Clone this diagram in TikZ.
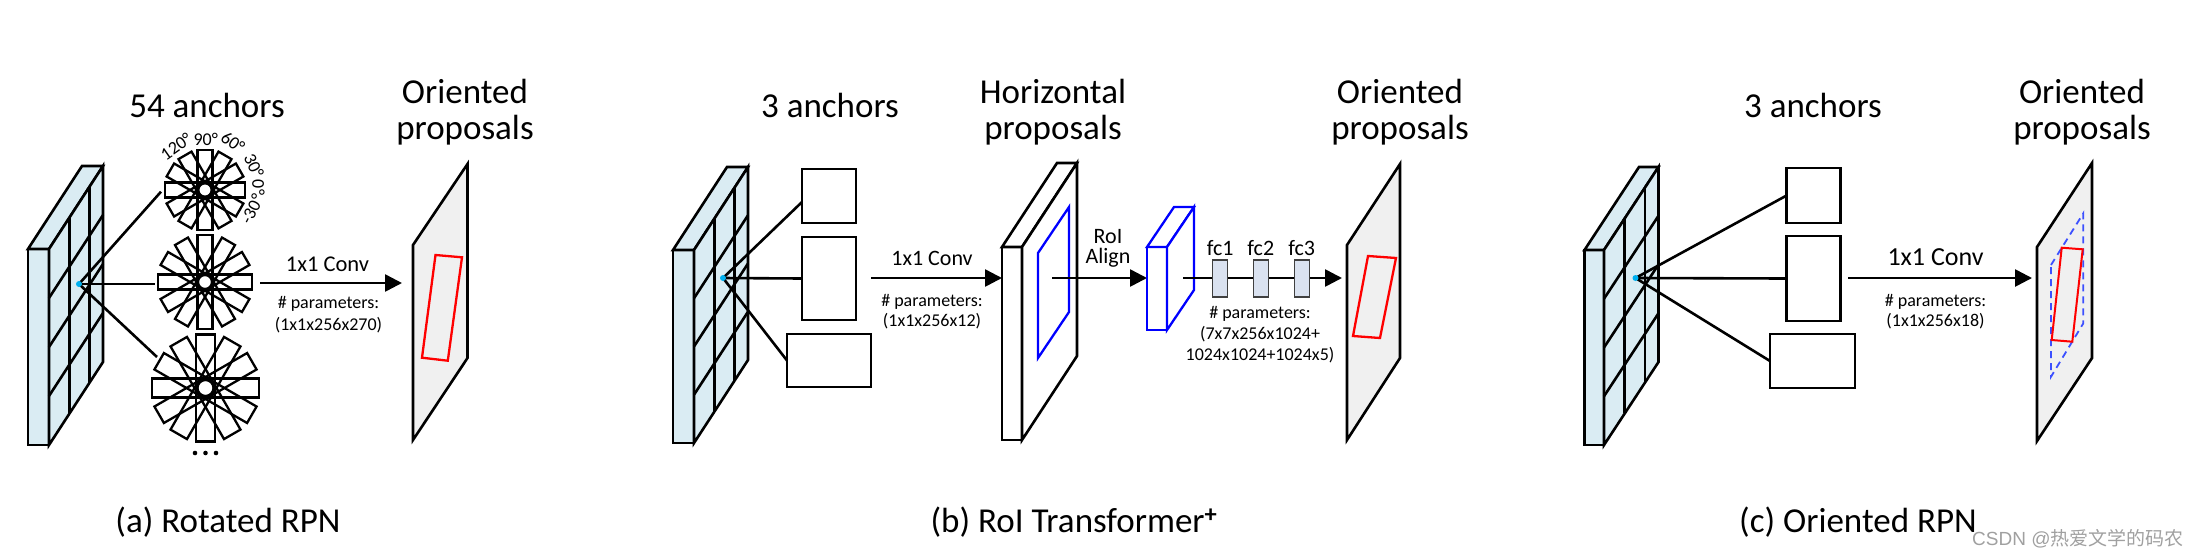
\documentclass[tikz,border=0pt]{standalone}
\usepackage{fontspec}
\setmainfont{Carlito}
\newfontfamily\wmfont{Liberation Sans}
\newfontfamily\cjkfont{Noto Sans CJK SC}
\usetikzlibrary{arrows.meta}
\definecolor{fmblue}{RGB}{218,236,243}
\definecolor{planegray}{RGB}{240,240,240}
\definecolor{fcfill}{RGB}{218,226,240}
\definecolor{dotblue}{RGB}{0,176,240}
\definecolor{wmgray}{RGB}{160,160,160}
\definecolor{dashblue}{RGB}{60,80,255}

% slab: #1 x, #2 y (front top-left), #3 w, #4 h, #5 dx, #6 dy (up), #7 style
\newcommand\slab[7]{%
\begin{scope}[shift={(#1,#2)}]
 \draw[#7] (0,0) rectangle (#3,#4);
 \draw[#7] (0,0) -- (#5,-#6) -- ({#3+#5},-#6) -- (#3,0) -- cycle;
 \draw[#7] (#3,0) -- ({#3+#5},-#6) -- ({#3+#5},{#4-#6}) -- (#3,#4) -- cycle;
\end{scope}}
\newcommand\featgrid[6]{%
\begin{scope}[shift={(#1,#2)}]
 \foreach \t in {0.38,0.75} \draw[blk] ({#3+\t*#5},{-\t*#6}) -- ({#3+\t*#5},{#4-\t*#6});
 \foreach \k in {1,2,3} \draw[blk] (#3,{\k*#4/4}) -- ({#3+#5},{\k*#4/4-#6});
\end{scope}}
\newcommand\anchorstar[5]{%
\begin{scope}[shift={(#1,#2)}]
 \foreach \a in {0,30,60,90,120,150}{\draw[thn,rotate=\a] ({-#3/2},{-#4/2}) rectangle ({#3/2},{#4/2});}
 \draw[thn,fill=white] (0,0) circle (#5);
\end{scope}}

\begin{document}
\begin{tikzpicture}[x=1pt,y=-1pt,
  blk/.style={line width=2.6pt},
  thn/.style={line width=2.3pt},
  arr/.style={line width=2.6pt,-{Triangle[length=17pt,width=17pt]}},
  lbl/.style={inner sep=0pt, anchor=base},
  title/.style={lbl, font=\fontsize{35}{36}\selectfont},
  conv/.style={lbl, font=\fontsize{22}{24}\selectfont},
  param/.style={lbl, font=\fontsize{18}{20}\selectfont},
  captxt/.style={lbl, font=\fontsize{35}{38}\selectfont},
  ang/.style={inner sep=0pt, font=\fontsize{18}{19}\selectfont},
  abox/.style={draw, line width=2.6pt, inner sep=0pt, outer sep=0pt},
  fcbox/.style={draw=black!75, line width=1.3pt, fill=fcfill, minimum width=15pt, minimum height=37pt, inner sep=0pt}]
\useasboundingbox (0,0) rectangle (2198,558);

% ================= (a) Rotated RPN =================
\slab{28}{249}{21}{196}{54}{83}{blk,fill=fmblue}
\featgrid{28}{249}{21}{196}{54}{83}
\coordinate (da) at (79,284);
\coordinate (at1) at (161,191.7);
\coordinate (at2) at (155,284);
\coordinate (at3) at (157,357);
\draw[blk] (da) -- (at1);
\draw[blk] (da) -- (at2);
\draw[blk] (da) -- (at3);
\fill[dotblue] (da) circle (3);

\anchorstar{205}{190}{80}{15}{6.7}
\anchorstar{205}{282}{94}{15}{7}
\anchorstar{205.5}{388}{107}{19}{8}
\foreach \xx in {195,205.5,216} \fill (\xx,453) circle (2.3);

\node[ang,rotate=35] (l120) at (176,146.5) {120°};
\node[ang] (l90) at (205.7,139) {90°};
\node[ang,rotate=-35] (l60) at (233,142.5) {60°};
\node[ang,rotate=-65] (l30) at (254,165.5) {30°};
\node[ang,rotate=-90] (l0) at (258.5,187.5) {0°};
\node[ang,rotate=63] (lm30) at (252,209) {-30°};

\node[title] (a54) at (207,117) {54 anchors};
\node[title] (aor1) at (465,103.5) {Oriented};
\node[title] (aor2) at (465,139.5) {proposals};

\coordinate (aS) at (260,283);
\coordinate (aE) at (402,283);
\draw[arr] (aS) -- (aE);
\node[lbl,font=\fontsize{22.5}{24}\selectfont] (aconv) at (327.5,271) {1x1 Conv};
\node[param] (apar1) at (328.5,308) {\# parameters:};
\node[param] (apar2) at (328.5,330) {(1x1x256x270)};

\draw[blk,fill=planegray] (413,245) -- (467.5,164) -- (467.5,358) -- (413,440) -- cycle;
\draw[red,thn] (435.5,255) -- (462,257.3) -- (447.8,360.7) -- (422,357.7) -- cycle;

\node[captxt] (capa) at (228,532) {(a) Rotated RPN};

% ================= (b) RoI Transformer =================
\slab{673}{250}{21}{193}{54}{83}{blk,fill=fmblue}
\featgrid{673}{250}{21}{193}{54}{83}
\coordinate (db) at (723,278);
\node[abox,minimum width=54pt,minimum height=54pt] (bt) at (829,196) {};
\node[abox,minimum width=54pt,minimum height=83pt] (bm) at (829,278.5) {};
\node[abox,minimum width=84pt,minimum height=53pt] (bb) at (829,360.5) {};
\draw[blk] (db) -- ([yshift=-6pt]bt.west);
\draw[blk] (db) -- (bm.west);
\draw[blk] (db) -- (bb.west);
\fill[dotblue] (db) circle (3);

\node[title] (b3) at (830,117) {3 anchors};
\coordinate (bS) at (871,278);
\coordinate (bE) at (1002,278);
\draw[arr] (bS) -- (bE);
\node[conv] (bconv) at (932,265) {1x1 Conv};
\node[param] (bpar1) at (932,306) {\# parameters:};
\node[param] (bpar2) at (932,326.5) {(1x1x256x12)};

\slab{1002}{247}{20}{193}{55}{84}{blk,fill=white}
\draw[blue,thn] (1038,253) -- (1069,207) -- (1069,312) -- (1038,358) -- cycle;
\node[title] (bh1) at (1053,103.5) {Horizontal};
\node[title] (bh2) at (1053,139.5) {proposals};

\coordinate (rS) at (1052,278);
\coordinate (rE) at (1147,278);
\draw[arr] (rS) -- (rE);
\node[conv] (roi1) at (1108,243) {RoI};
\node[conv] (roi2) at (1108,263) {Align};

\slab{1147}{247}{20}{83}{27}{40}{blue,thn,fill=white}

\coordinate (fS) at (1183,278);
\coordinate (fE) at (1342,278);
\draw[arr] (fS) -- (fE);
\node[fcbox] (fc1) at (1220.2,278.5) {};
\node[fcbox] (fc2) at (1260.8,278.5) {};
\node[fcbox] (fc3) at (1301.7,278.5) {};
\node[conv] (fc1l) at (1220.2,255) {fc1};
\node[conv] (fc2l) at (1260.8,255) {fc2};
\node[conv] (fc3l) at (1301.7,255) {fc3};
\node[param] (fpar1) at (1260,318) {\# parameters:};
\node[param] (fpar2) at (1260,339) {(7x7x256x1024+};
\node[param] (fpar3) at (1260,360) {1024x1024+1024x5)};

\draw[blk,fill=planegray] (1347,245) -- (1400,164) -- (1400,358) -- (1347,440) -- cycle;
\draw[red,thn] (1368,256) -- (1396,258) -- (1380,338) -- (1353,336) -- cycle;
\node[title] (bor1) at (1400,103.5) {Oriented};
\node[title] (bor2) at (1400,139.5) {proposals};

\node[captxt] (capb) at (1074,532) {(b) RoI Transformer\textsuperscript{\textbf{+}}};

% ================= (c) Oriented RPN =================
\slab{1584.5}{250}{19.5}{195}{54.5}{83}{blk,fill=fmblue}
\featgrid{1584.5}{250}{19.5}{195}{54.5}{83}
\coordinate (dc) at (1635.5,278);
\node[abox,minimum width=54pt,minimum height=55pt] (ct) at (1813.6,195.5) {};
\node[abox,minimum width=54pt,minimum height=85pt] (cm) at (1813.6,278.5) {};
\node[abox,minimum width=85pt,minimum height=54pt] (cb) at (1812.5,361) {};
\draw[blk] (dc) -- (ct.west);
\draw[blk] (dc) -- (cm.west);
\draw[blk] (dc) -- (cb.west);
\fill[dotblue] (dc) circle (3);

\node[title] (c3) at (1813,117) {3 anchors};
\coordinate (cS) at (1848,278);
\coordinate (cE) at (2032,278);
\draw[arr] (cS) -- (cE);
\node[lbl,font=\fontsize{26}{28}\selectfont] (cconv) at (1935.5,265) {1x1 Conv};
\node[param] (cpar1) at (1935.5,306.5) {\# parameters:};
\node[param] (cpar2) at (1935.5,326) {(1x1x256x18)};

\draw[blk,fill=planegray] (2037,247) -- (2092,163) -- (2092,358) -- (2037,441) -- cycle;
\draw[dashblue,line width=1.8pt,dash pattern=on 7pt off 5pt] (2051,265) -- (2083.3,213.3) -- (2083.3,323.3) -- (2051,376.7) -- cycle;
\draw[red,line width=2pt] (2061.7,247.7) -- (2082.7,249.3) -- (2072.3,341.7) -- (2051.7,340) -- cycle;
\node[title] (cor1) at (2082,103.5) {Oriented};
\node[title] (cor2) at (2082,139.5) {proposals};

\node[captxt] (capc) at (1858,532) {(c) Oriented RPN};

\node[lbl,anchor=base west,text=wmgray,font=\fontsize{19}{21}\selectfont] (wm) at (1972,545) {\wmfont CSDN @\cjkfont 热爱文学的码农};
\end{tikzpicture}
\end{document}
